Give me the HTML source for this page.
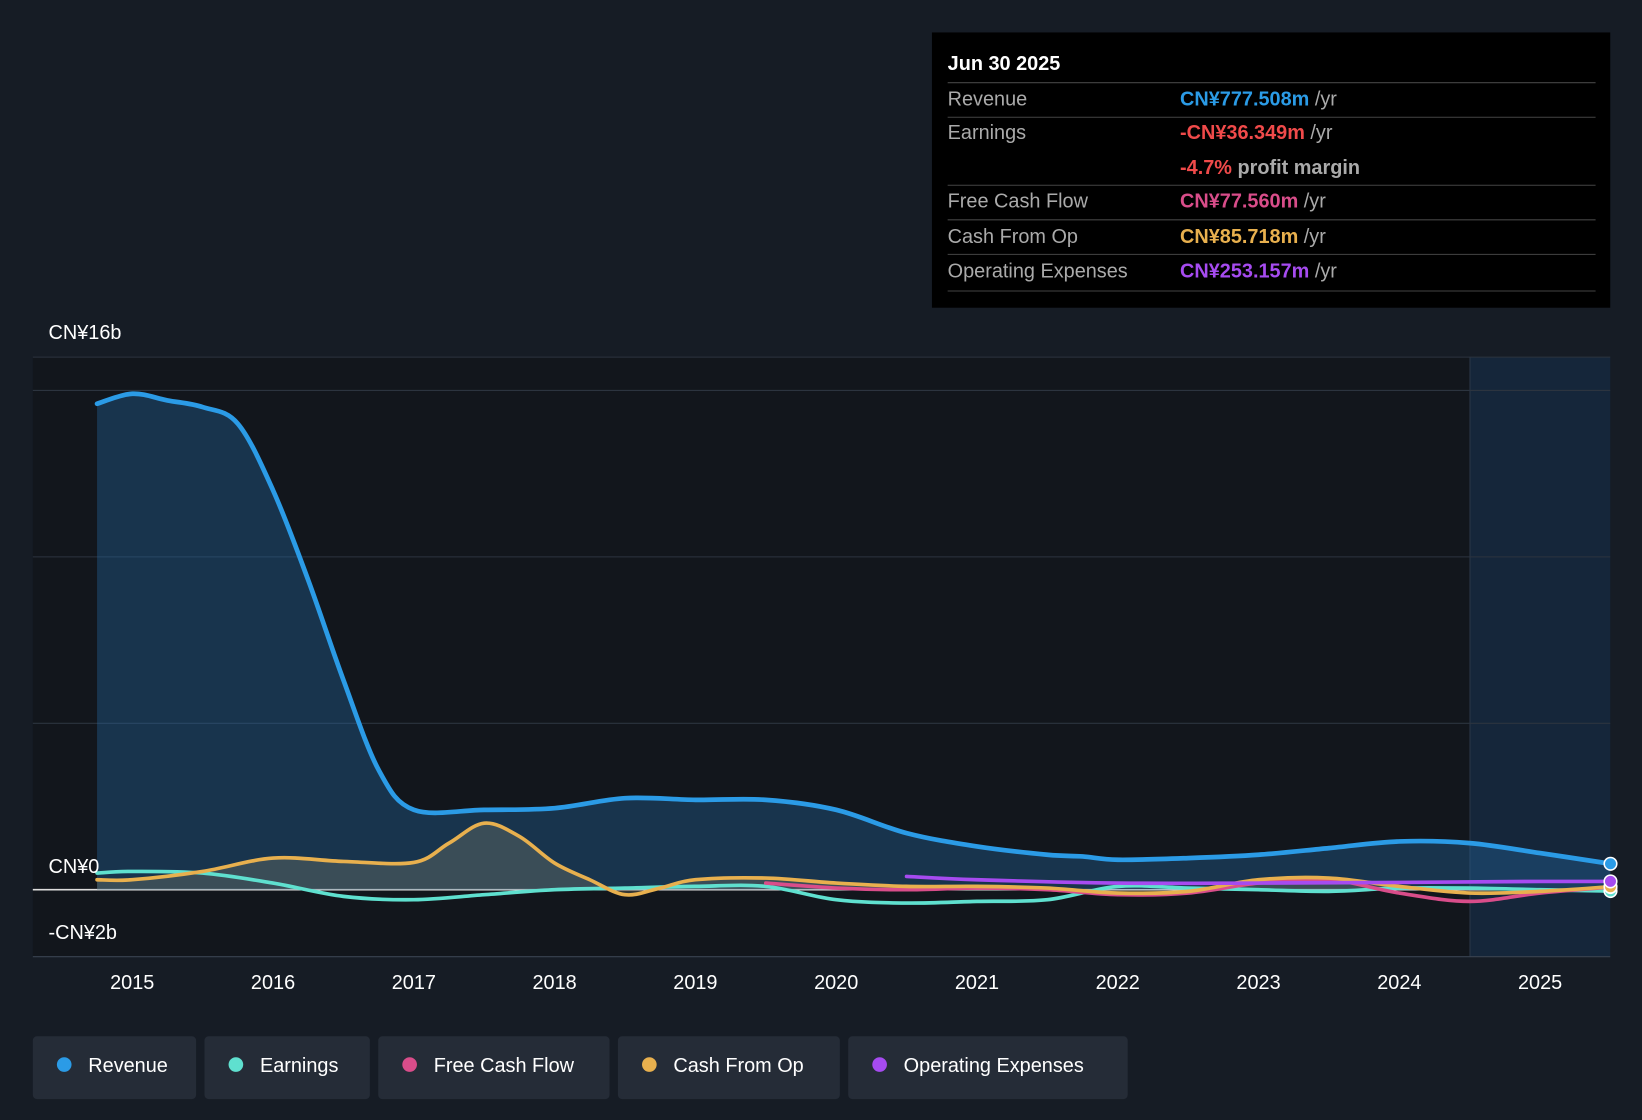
<!DOCTYPE html>
<html><head><meta charset="utf-8"><style>
html,body{margin:0;padding:0;background:#161c25;}
svg{display:block;font-family:"Liberation Sans",sans-serif;}
</style></head><body>
<svg id="chart" width="1642" height="1120" viewBox="0 0 1568 1070" xmlns="http://www.w3.org/2000/svg">
<rect x="0" y="0" width="1568" height="1070" fill="#161c25"/>
<rect x="31" y="341" width="1373" height="573" fill="#12161c"/>
<rect x="1404" y="341" width="134" height="573" fill="#15263a"/>
<line x1="1404" y1="341" x2="1404" y2="914" stroke="#2a3646" stroke-width="1"/>
<g id="grid"></g>
<g id="series"></g>
<g id="xaxis"></g>
<text x="46" y="324" fill="#fff" font-size="19">CN¥16b</text>
<text x="46" y="834" fill="#fff" font-size="19">CN¥0</text>
<text x="46" y="897" fill="#fff" font-size="19">-CN¥2b</text>

<g>
<rect x="890" y="31" width="648" height="263" fill="#000"/>
<text x="905" y="67" fill="#fff" font-size="19" font-weight="bold">Jun 30 2025</text>
<line x1="905" y1="79" x2="1524" y2="79" stroke="#444"/>
<text x="905" y="101" fill="#aaa" font-size="19">Revenue</text>
<text x="1127" y="101" font-size="19"><tspan fill="#2b9be6" font-weight="bold">CN¥777.508m</tspan><tspan fill="#aaa"> /yr</tspan></text>
<line x1="905" y1="112" x2="1524" y2="112" stroke="#444"/>
<text x="905" y="133" fill="#aaa" font-size="19">Earnings</text>
<text x="1127" y="133" font-size="19"><tspan fill="#f04a4a" font-weight="bold">-CN¥36.349m</tspan><tspan fill="#aaa"> /yr</tspan></text>
<text x="1127" y="166" font-size="19"><tspan fill="#f04a4a" font-weight="bold">-4.7%</tspan><tspan fill="#aaa" font-weight="bold"> profit margin</tspan></text>
<line x1="905" y1="177" x2="1524" y2="177" stroke="#444"/>
<text x="905" y="198" fill="#aaa" font-size="19">Free Cash Flow</text>
<text x="1127" y="198" font-size="19"><tspan fill="#d94d8a" font-weight="bold">CN¥77.560m</tspan><tspan fill="#aaa"> /yr</tspan></text>
<line x1="905" y1="210" x2="1524" y2="210" stroke="#444"/>
<text x="905" y="232" fill="#aaa" font-size="19">Cash From Op</text>
<text x="1127" y="232" font-size="19"><tspan fill="#e8b04e" font-weight="bold">CN¥85.718m</tspan><tspan fill="#aaa"> /yr</tspan></text>
<line x1="905" y1="243" x2="1524" y2="243" stroke="#444"/>
<text x="905" y="265" fill="#aaa" font-size="19">Operating Expenses</text>
<text x="1127" y="265" font-size="19"><tspan fill="#a64bf0" font-weight="bold">CN¥253.157m</tspan><tspan fill="#aaa"> /yr</tspan></text>
<line x1="905" y1="278" x2="1524" y2="278" stroke="#444"/>
</g>

<g>
<g><rect x="31" y="990" width="156" height="60" rx="4" fill="#252c37"/><circle cx="61" cy="1017" r="7" fill="#2b9be6"/><text x="84" y="1024" fill="#fff" font-size="19">Revenue</text></g>
<g><rect x="195" y="990" width="158" height="60" rx="4" fill="#252c37"/><circle cx="225" cy="1017" r="7" fill="#5fe0cf"/><text x="248" y="1024" fill="#fff" font-size="19">Earnings</text></g>
<g><rect x="361" y="990" width="221" height="60" rx="4" fill="#252c37"/><circle cx="391" cy="1017" r="7" fill="#d94d8a"/><text x="414" y="1024" fill="#fff" font-size="19">Free Cash Flow</text></g>
<g><rect x="590" y="990" width="212" height="60" rx="4" fill="#252c37"/><circle cx="620" cy="1017" r="7" fill="#e8b04e"/><text x="643" y="1024" fill="#fff" font-size="19">Cash From Op</text></g>
<g><rect x="810" y="990" width="267" height="60" rx="4" fill="#252c37"/><circle cx="840" cy="1017" r="7" fill="#a64bf0"/><text x="863" y="1024" fill="#fff" font-size="19">Operating Expenses</text></g>
</g>
</svg>
<script>
const xTicks=[2015,2016,2017,2018,2019,2020,2021,2022,2023,2024,2025];
const gridValues=[16,15,10,5,0];
const revT=[2014.75,2015,2015.25,2015.5,2015.75,2016,2016.25,2016.5,2016.75,2017,2017.5,2018,2018.5,2019,2019.5,2020,2020.5,2021,2021.5,2021.75,2022,2022.5,2023,2023.5,2024,2024.5,2025,2025.5];
const revV=[14.6,14.9,14.7,14.5,14.0,12.0,9.3,6.3,3.6,2.4,2.4,2.45,2.75,2.7,2.7,2.4,1.7,1.3,1.05,1.0,0.9,0.95,1.05,1.25,1.45,1.4,1.1,0.78];
const earnT=[2014.75,2015,2015.5,2016,2016.5,2017,2017.5,2018,2018.5,2019,2019.5,2020,2020.5,2021,2021.5,2022,2022.5,2023,2023.5,2024,2024.5,2025,2025.5];
const earnV=[0.5,0.55,0.5,0.2,-0.2,-0.3,-0.15,0,0.05,0.1,0.1,-0.3,-0.4,-0.35,-0.3,0.1,0.05,0,-0.05,0.05,0.05,0,-0.04];
const cfoT=[2014.75,2015,2015.5,2016,2016.5,2017,2017.25,2017.5,2017.75,2018,2018.25,2018.5,2018.75,2019,2019.5,2020,2020.5,2021,2021.5,2022,2022.5,2023,2023.5,2024,2024.5,2025,2025.5];
const cfoV=[0.3,0.3,0.55,0.95,0.85,0.82,1.4,2.0,1.6,0.8,0.3,-0.15,0.05,0.3,0.35,0.2,0.1,0.1,0.05,-0.1,-0.05,0.3,0.35,0.1,-0.1,-0.05,0.09];
const fcfT=[2019.5,2020,2020.5,2021,2021.5,2022,2022.5,2023,2023.5,2024,2024.5,2025,2025.5];
const fcfV=[0.2,0.05,0,0.05,0,-0.15,-0.1,0.2,0.3,-0.1,-0.35,-0.1,0.08];
const opxT=[2020.5,2021,2022,2023,2024,2025,2025.5];
const opxV=[0.4,0.3,0.2,0.2,0.22,0.25,0.25];

const NS="http://www.w3.org/2000/svg";
const X=t=>126+(t-2015)*134.5;
const Y=v=>850-v*31.8;
function mk(tag,attrs,parent){const e=document.createElementNS(NS,tag);for(const k in attrs)e.setAttribute(k,attrs[k]);parent.appendChild(e);return e;}
function smooth(T,V){const p=T.map((t,i)=>[X(t),Y(V[i])]);let d=`M${p[0][0]},${p[0][1]}`;
 for(let i=0;i<p.length-1;i++){const p0=p[i-1]||p[i],p1=p[i],p2=p[i+1],p3=p[i+2]||p2;
 const c1=[p1[0]+(p2[0]-p0[0])/6,p1[1]+(p2[1]-p0[1])/6],c2=[p2[0]-(p3[0]-p1[0])/6,p2[1]-(p3[1]-p1[1])/6];
 d+=` C${c1[0]},${c1[1]} ${c2[0]},${c2[1]} ${p2[0]},${p2[1]}`;}return d;}
const grid=document.getElementById('grid');
gridValues.forEach(v=>{const l=mk('line',{x1:31,x2:1538,y1:Y(v),y2:Y(v),stroke:v===0?'#ddd':'#2c343f','stroke-width':v===0?1.5:1},grid);

});
mk('line',{x1:31,x2:1538,y1:914,y2:914,stroke:'#3a4350'},grid);
const xa=document.getElementById('xaxis');
xTicks.forEach(t=>{const e=mk('text',{x:X(t),y:945,fill:'#fff','font-size':19,'text-anchor':'middle'},xa);e.textContent=t;

});
const s=document.getElementById('series');
function area(T,V,fill){const d=smooth(T,V)+` L${X(T[T.length-1])},${Y(0)} L${X(T[0])},${Y(0)} Z`;return mk('path',{d,fill},s);}
const ra=area(revT,revV,'rgba(38,110,170,0.35)');


const ca=area(cfoT,cfoV,'rgba(160,150,120,0.25)');


function line(T,V,c,name,w){const e=mk('path',{d:smooth(T,V),fill:'none',stroke:c,'stroke-width':w||4,'stroke-linecap':'round'},s);


const dot=mk('circle',{cx:X(T[T.length-1]),cy:Y(V[V.length-1]),r:6,fill:c,stroke:'#fff','stroke-width':1.5},s);

}
line(earnT,earnV,'#5fe0cf','earnings-line',3.5);
line(fcfT,fcfV,'#d94d8a','free-cash-flow-line',3.5);
line(cfoT,cfoV,'#e8b04e','cash-from-op-line',3.5);
line(opxT,opxV,'#a64bf0','operating-expenses-line',3.5);
line(revT,revV,'#2b9be6','revenue-line',4.5);
</script>
</body></html>
